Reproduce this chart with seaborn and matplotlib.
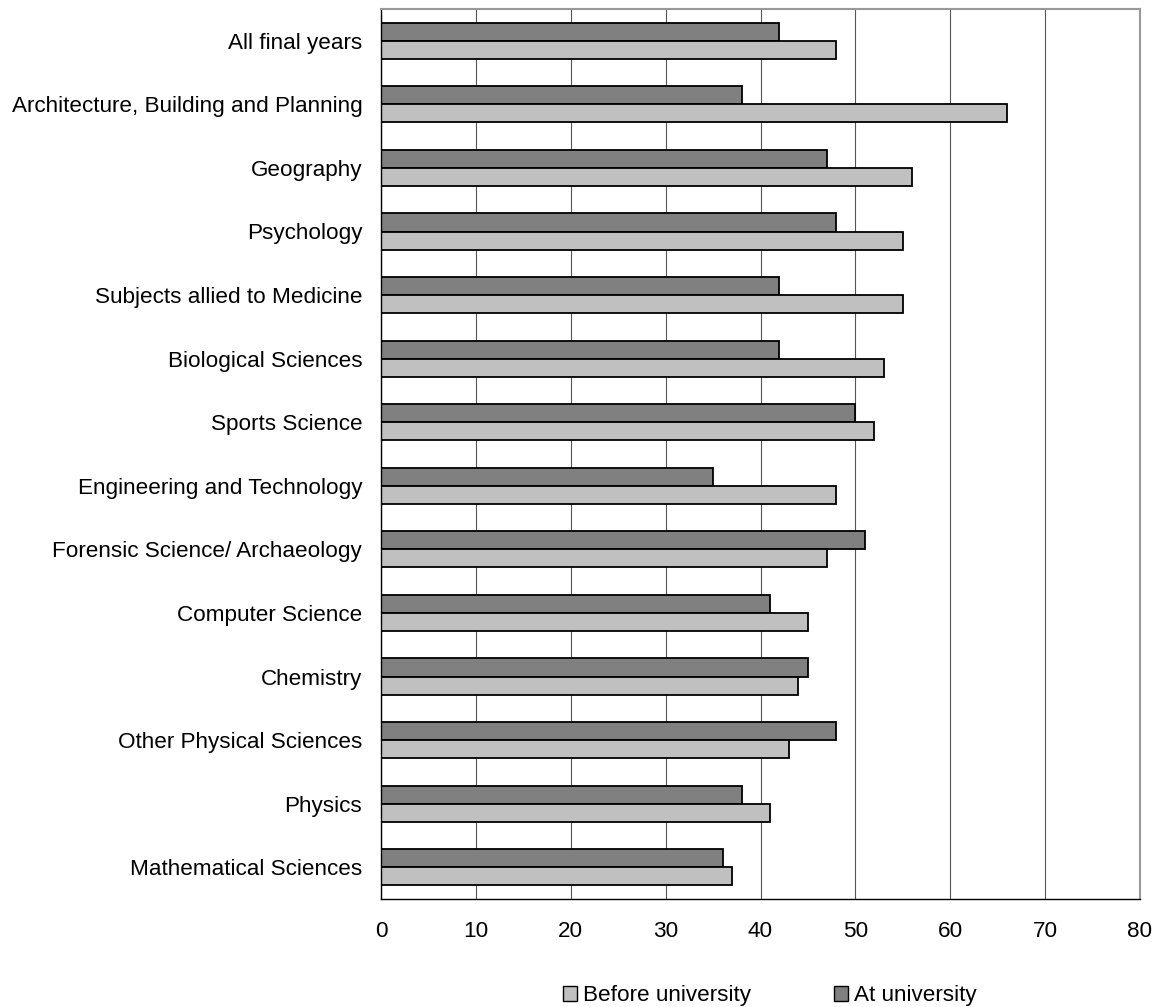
import matplotlib
matplotlib.use("Agg")
import matplotlib.pyplot as plt
from matplotlib.patches import Patch
import seaborn as sns
import pandas as pd

categories = [
    "All final years",
    "Architecture, Building and Planning",
    "Geography",
    "Psychology",
    "Subjects allied to Medicine",
    "Biological Sciences",
    "Sports Science",
    "Engineering and Technology",
    "Forensic Science/ Archaeology",
    "Computer Science",
    "Chemistry",
    "Other Physical Sciences",
    "Physics",
    "Mathematical Sciences",
]
before_university = [48, 66, 56, 55, 55, 53, 52, 48, 47, 45, 44, 43, 41, 37]
at_university = [42, 38, 47, 48, 42, 42, 50, 35, 51, 41, 45, 48, 38, 36]
series_names = ["Before university", "At university"]
x_ticks = [0, 10, 20, 30, 40, 50, 60, 70, 80]

df = pd.DataFrame({
    "category": categories * 2,
    "value": at_university + before_university,
    "series": ["At university"] * len(categories) + ["Before university"] * len(categories),
})

sns.set_theme(style="white")
plt.rcParams['font.family'] = ['Liberation Sans', 'DejaVu Sans']
plt.rcParams['text.color'] = 'black'
plt.rcParams['xtick.color'] = 'black'
plt.rcParams['ytick.color'] = 'black'

FS = 16.2
W, H = 1163, 1007
fig = plt.figure(figsize=(W / 100, H / 100), dpi=100)
ax = fig.add_axes([381 / W, (H - 899) / H, (1140 - 381) / W, (899 - 9) / H])

colors = {"Before university": "#C0C0C0", "At university": "#808080"}
sns.barplot(
    data=df, y="category", x="value", hue="series",
    hue_order=["At university", "Before university"],
    order=categories, palette=colors, orient="h", width=0.57,
    edgecolor="black", linewidth=1.3, saturation=1, ax=ax, legend=False,
)

ax.set_xlim(0, 80)
ax.set_ylim(len(categories) - 0.5, -0.5)
ax.set_xticks(x_ticks)
ax.set_xticklabels([str(t) for t in x_ticks], fontsize=FS)
ax.set_xlabel("")
ax.set_ylabel("")
ax.tick_params(axis="y", which="major", length=0, labelsize=FS, pad=13.5, labelcolor="black")
ax.set_yticks([i - 0.5 for i in range(len(categories) + 1)], minor=True)
ax.tick_params(axis="y", which="minor", length=5, width=1, color="black", direction="out")
ax.tick_params(axis="x", which="major", length=5, width=1, color="black", direction="out",
               labelsize=FS, pad=10.5, labelcolor="black")
ax.grid(axis="x", color="#555555", linewidth=0.8)
ax.grid(axis="y", visible=False)
ax.set_axisbelow(True)

for side in ["left", "bottom"]:
    ax.spines[side].set_color("black")
    ax.spines[side].set_linewidth(1.0)
for side in ["top", "right"]:
    ax.spines[side].set_color("#999999")
    ax.spines[side].set_linewidth(1.5)
    ax.spines[side].set_visible(True)

handles = [Patch(facecolor=colors[s], edgecolor="black", linewidth=1.0, label=s) for s in series_names]
fig.legend(handles=handles, loc="center", bbox_to_anchor=(770 / W, 1 - 996 / H), ncol=2,
           frameon=False, fontsize=FS, handlelength=0.62, handleheight=0.62,
           handletextpad=0.25, columnspacing=3.7, borderpad=0.1)

fig.savefig("out.png", dpi=100)
